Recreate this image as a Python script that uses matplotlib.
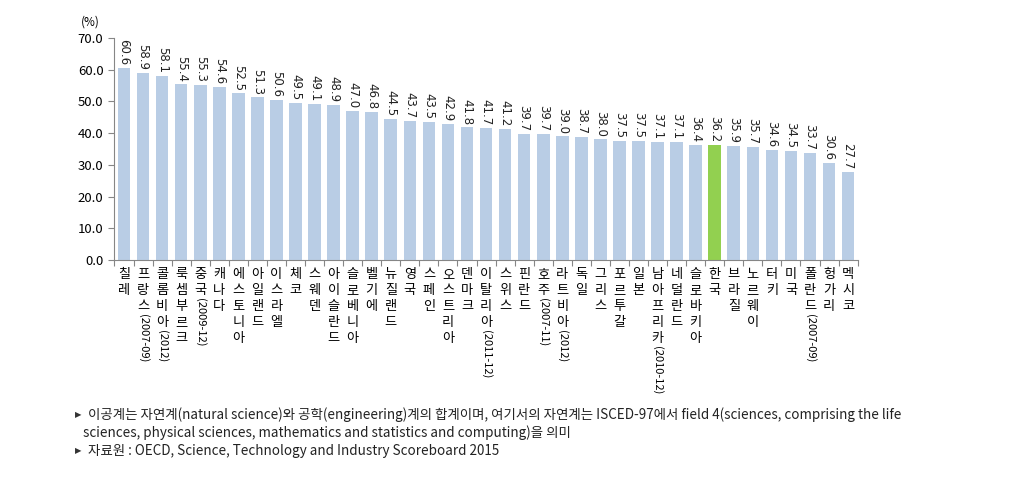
import numpy as np
import matplotlib
matplotlib.use("Agg")
import matplotlib.pyplot as plt
from matplotlib.ticker import FormatStrFormatter

plt.rcParams['font.family'] = ['Noto Sans CJK KR', 'DejaVu Sans']

countries = ["칠레", "프랑스(2007-09)", "콜롬비아(2012)", "룩셈부르크", "중국(2009-12)",
             "캐나다", "에스토니아", "아일랜드", "이스라엘", "체코", "스웨덴", "아이슬란드",
             "슬로베니아", "벨기에", "뉴질랜드", "영국", "스페인", "오스트리아", "덴마크",
             "이탈리아(2011-12)", "스위스", "핀란드", "호주(2007-11)", "라트비아(2012)",
             "독일", "그리스", "포르투갈", "일본", "남아프리카(2010-12)", "네덜란드",
             "슬로바키아", "한국", "브라질", "노르웨이", "터키", "미국", "폴란드(2007-09)",
             "헝가리", "멕시코"]
values = [60.6, 58.9, 58.1, 55.4, 55.3, 54.6, 52.5, 51.3, 50.6, 49.5, 49.1, 48.9,
          47.0, 46.8, 44.5, 43.7, 43.5, 42.9, 41.8, 41.7, 41.2, 39.7, 39.7, 39.0,
          38.7, 38.0, 37.5, 37.5, 37.1, 37.1, 36.4, 36.2, 35.9, 35.7, 34.6, 34.5,
          33.7, 30.6, 27.7]
highlight = "한국"
yticks = [0, 10, 20, 30, 40, 50, 60, 70]

notes = ["이공계는 자연계(natural science)와 공학(engineering)계의 합계이며, 여기서의 자연계는 "
         "ISCED-97에서 field 4(sciences, comprising the life",
         "sciences, physical sciences, mathematics and statistics and computing)을 의미",
         "자료원 : OECD, Science, Technology and Industry Scoreboard 2015"]

fig = plt.figure(figsize=(10.25, 4.98), dpi=100)
ax = fig.add_axes([0.1117, 0.478, 0.725, 0.4457])

x = np.arange(len(countries))
colors = ["#92D050" if c == highlight else "#B9CDE5" for c in countries]
ax.bar(x, values, width=0.66, color=colors, zorder=2)

for xi, v in zip(x, values):
    ax.annotate(f"{v:.1f}", (xi, v), xytext=(0, 2), textcoords="offset points",
                rotation=-90, ha="center", va="bottom", fontsize=8.5,
                family=["DejaVu Sans"], color="#222222")

ax.set_xlim(-0.5, len(countries) - 0.5)
ax.set_ylim(0, 70)
ax.set_yticks(yticks)
ax.yaxis.set_major_formatter(FormatStrFormatter("%.1f"))
ax.set_xticks(np.arange(-0.5, len(countries), 1))
ax.set_xticklabels([])
ax.tick_params(axis="x", length=4, color="#868686")
ax.tick_params(axis="y", length=4, color="#868686", labelsize=9.5, pad=4)
for s in ["top", "right"]:
    ax.spines[s].set_visible(False)
for s in ["left", "bottom"]:
    ax.spines[s].set_color("#868686")

# vertical (stacked) category labels
for xi, name in zip(x, countries):
    if "(" in name:
        kor, par = name.split("(", 1)
        par = "(" + par
    else:
        kor, par = name, ""
    t = ax.text(xi, -0.035, "\n".join(kor), transform=ax.get_xaxis_transform(),
                ha="center", va="top", fontsize=9.5, linespacing=1.3)
    if par:
        ax.annotate(par, (0.5, 0), xycoords=t, xytext=(0, -1),
                    textcoords="offset points", rotation=-90, ha="center",
                    va="top", fontsize=8)

fig.text(0.088, 0.955, "(%)", fontsize=8.5, ha="center", va="center")

# footnotes
for yy, txt, bullet in [(415, notes[0], True), (433, notes[1], False), (451, notes[2], True)]:
    if bullet:
        fig.text(75 / 1025, 1 - yy / 498, "▶", fontsize=6, family=["DejaVu Sans"],
                 va="center", color="#333333")
    fig.text((88 if bullet else 83) / 1025, 1 - yy / 498, txt, fontsize=9.7,
             va="center", color="#222222")

fig.savefig("out.png", dpi=100)
